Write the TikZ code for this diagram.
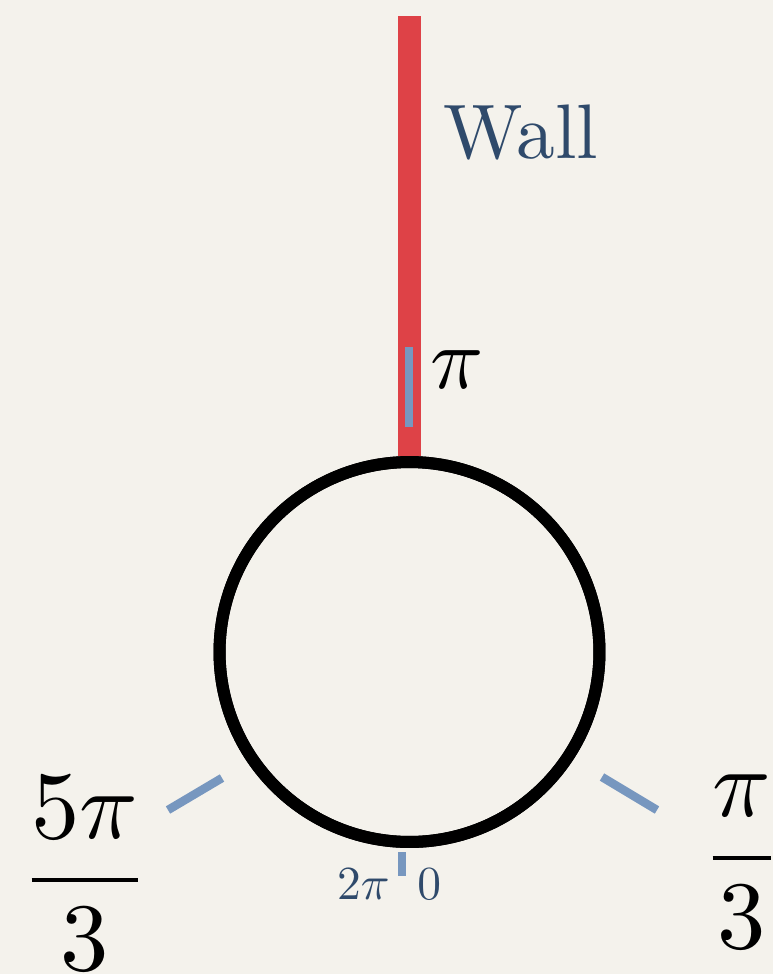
\documentclass[tikz,border=0pt]{standalone}
\usepackage{graphicx}
\definecolor{bg}{HTML}{F4F2EC}
\definecolor{wallred}{HTML}{DE4247}
\definecolor{tickblue}{HTML}{7797BF}
\definecolor{textblue}{HTML}{2F4A6B}
\tikzset{
  wallbar/.style={draw=wallred, line width=0.46cm},
  ring/.style={circle, draw=black, line width=0.24cm, minimum size=7.6cm, inner sep=0pt},
  tickmark/.style={draw=tickblue, line width=0.17cm},
  biglabel/.style={inner sep=0pt},
  walllabel/.style={inner sep=0pt, text=textblue},
  smalllabel/.style={inner sep=0pt, text=textblue}
}
\newcommand{\bigsz}[1]{\scalebox{5}{#1}}
\newcommand{\fracsz}[1]{\scalebox{5.5}{#1}}
\newcommand{\wallsz}[1]{\scalebox{4.4}{#1}}
\newcommand{\smallsz}[1]{\scalebox{2.7}{#1}}
\begin{document}
\begin{tikzpicture}[x=0.02cm, y=-0.02cm]
  \fill[bg] (0,0) rectangle (773,974);
  \useasboundingbox (0,0) rectangle (773,974);
  % wall
  \coordinate (walltop) at (409.5,16);
  \node[ring] (c) at (409.5,652) {};
  \draw[wallbar] (walltop) -- (c.north);
  \node[ring] at (c.center) {};
  \node[walllabel, anchor=base west] (wall) at (443,158) {\wallsz{Wall}};
  % pi tick
  \coordinate (pa) at (409,347);
  \coordinate (pb) at (409,427);
  \draw[tickmark] (pa) -- (pb);
  \node[biglabel, anchor=base west] (pi) at (430,388) {\bigsz{$\pi$}};
  % bottom tick
  \coordinate (ba) at (402,852);
  \coordinate (bb) at (402,876);
  \draw[tickmark] (ba) -- (bb);
  \node[smalllabel, anchor=base east] (twopi) at (390,899) {\smallsz{$2\pi$}};
  \node[smalllabel, anchor=base west] (zero) at (417,899) {\smallsz{$0$}};
  % 5pi/3 tick
  \coordinate (la) at (168,810);
  \coordinate (lb) at (222,778);
  \draw[tickmark] (la) -- (lb);
  \node[biglabel, anchor=base] (fivepi) at (85,904) {\fracsz{$\displaystyle\frac{5\pi}{3}$}};
  % pi/3 tick
  \coordinate (ra) at (602,777);
  \coordinate (rb) at (657,810);
  \draw[tickmark] (ra) -- (rb);
  \node[biglabel, anchor=base] (pithird) at (742,882) {\fracsz{$\displaystyle\frac{\pi}{3}$}};
\end{tikzpicture}
\end{document}
